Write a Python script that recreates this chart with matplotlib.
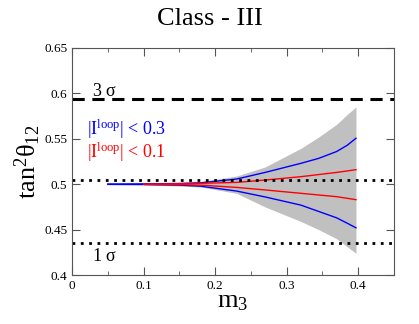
import matplotlib
matplotlib.use('Agg')
import matplotlib.pyplot as plt
from matplotlib.ticker import MultipleLocator

plt.rcParams['font.family'] = ['Liberation Serif', 'DejaVu Serif']
plt.rcParams['mathtext.fontset'] = 'custom'
plt.rcParams['mathtext.rm'] = 'Liberation Serif'
plt.rcParams['mathtext.it'] = 'Liberation Serif'

# blue band: |I_loop| < 0.3
m3_blue = [0.05, 0.10, 0.15, 0.18, 0.23, 0.27, 0.32, 0.345, 0.37, 0.385, 0.397]
blue_hi = [0.5002, 0.5004, 0.5008, 0.5015, 0.5057, 0.513, 0.523, 0.5285, 0.536, 0.543, 0.5506]
blue_lo = [0.4998, 0.4996, 0.499, 0.4978, 0.4925, 0.486, 0.477, 0.470, 0.463, 0.457, 0.452]

# red band: |I_loop| < 0.1
m3_red = [0.10, 0.15, 0.18, 0.23, 0.27, 0.32, 0.37, 0.397]
red_hi = [0.5001, 0.5005, 0.501, 0.502, 0.5046, 0.5083, 0.513, 0.516]
red_lo = [0.4999, 0.4995, 0.499, 0.4965, 0.4937, 0.490, 0.4863, 0.483]

# grey envelope
m3_grey = [0.10, 0.15, 0.18, 0.23, 0.27, 0.32, 0.345, 0.37, 0.385, 0.397]
grey_hi = [0.5008, 0.502, 0.503, 0.509, 0.519, 0.5395, 0.552, 0.566, 0.577, 0.585]
grey_lo = [0.4992, 0.498, 0.497, 0.490, 0.475, 0.459, 0.450, 0.440, 0.431, 0.424]

sigma3 = 0.594
sigma1_hi = 0.505
sigma1_lo = 0.435

fig = plt.figure(figsize=(4.19, 3.24), dpi=100)
ax = fig.add_axes([0.172, 0.151, 0.768, 0.701])

ax.fill_between(m3_grey, grey_lo, grey_hi, color='#c0c0c0', lw=0)
ax.plot(m3_blue, blue_hi, color='blue', lw=1)
ax.plot(m3_blue, blue_lo, color='blue', lw=1)
ax.plot(m3_red, red_hi, color='red', lw=1)
ax.plot(m3_red, red_lo, color='red', lw=1)

ax.axhline(sigma3, color='black', lw=2.2, ls=(0, (4, 2.5)))
ax.axhline(sigma1_hi, color='black', lw=2, ls=(0, (1, 2)))
ax.axhline(sigma1_lo, color='black', lw=2, ls=(0, (1, 2)))

ax.text(0.028, 0.597, r'3 $\sigma$', fontsize=13)
ax.text(0.028, 0.416, r'1 $\sigma$', fontsize=13)
ax.text(0.021, 0.554, r'|I$^{\rm loop}$| < 0.3', color='blue', fontsize=13)
ax.text(0.021, 0.529, r'|I$^{\rm loop}$| < 0.1', color='red', fontsize=13)

ax.set_xlim(0, 0.45)
ax.set_ylim(0.4, 0.65)
ax.xaxis.set_minor_locator(MultipleLocator(0.05))
ax.set_xticks([0, 0.1, 0.2, 0.3, 0.4])
ax.set_xticklabels(['0', '0.1', '0.2', '0.3', '0.4'])
ax.set_yticks([0.4, 0.45, 0.5, 0.55, 0.6, 0.65])
ax.set_yticklabels(['0.4', '0.45', '0.5', '0.55', '0.6', '0.65'])
ax.tick_params(which='both', direction='in', top=True, right=True,
               labelsize=9.5, color='#555555')
ax.tick_params(which='major', length=6)
ax.tick_params(which='minor', length=3)
for s in ax.spines.values():
    s.set_color('#555555')
    s.set_linewidth(0.8)

ax.set_xlabel(r'm$_3$', fontsize=19, labelpad=-1)
ax.set_ylabel(r'tan$^2\theta_{12}$', fontsize=19, labelpad=1)
fig.suptitle('Class - III', fontsize=19, y=0.975)

fig.savefig('out.png', dpi=100)
